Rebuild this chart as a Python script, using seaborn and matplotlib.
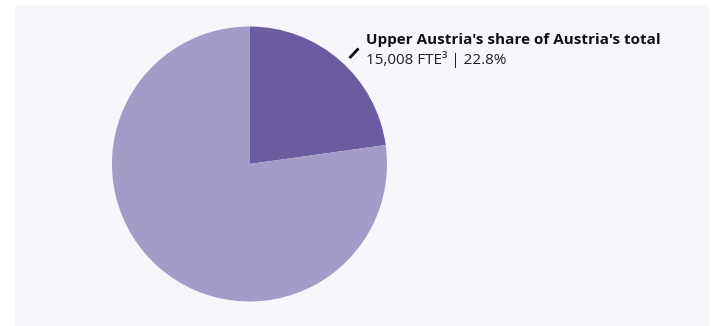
import matplotlib
matplotlib.use("Agg")
import matplotlib.pyplot as plt
import seaborn as sns
from matplotlib.patches import Rectangle

# Shares of Austria's total FTE
labels = ["Upper Austria", "Rest of Austria"]
shares = [22.8, 77.2]
upper_fte = "15,008"

sns.set_theme(style="white")
plt.rcParams["font.family"] = ["Open Sans", "DejaVu Sans"]

colors = ["#6a5c9f", "#a39bc8"]
W, H = 715, 326
fig = plt.figure(figsize=(W / 100, H / 100), dpi=100)
fig.patch.set_facecolor("white")
ax = fig.add_axes([0, 0, 1, 1])

# light panel behind the chart
ax.add_patch(Rectangle((15, 0), 694, H - 5, facecolor="#f7f6fb", edgecolor="none", zorder=0))

ax.pie(shares, colors=colors, startangle=90, counterclock=False,
       center=(249.5, H - 164), radius=137.5, frame=True,
       wedgeprops=dict(linewidth=0))
ax.set_xlim(0, W)
ax.set_ylim(0, H)
ax.set_aspect("equal")
ax.axis("off")

# callout
ax.plot([349.5, 358.5], [H - 58, H - 48.5], color="black", lw=2, solid_capstyle="butt")
ax.text(366, H - 44, "Upper Austria's share of Austria's total", fontsize=11,
        fontweight="bold", color="#111111", va="baseline", ha="left")
ax.text(366, H - 64, f"{upper_fte} FTE³ | {shares[0]:.1f}%", fontsize=11,
        color="#222222", va="baseline", ha="left")

fig.savefig("out.png", dpi=100, facecolor="white")
